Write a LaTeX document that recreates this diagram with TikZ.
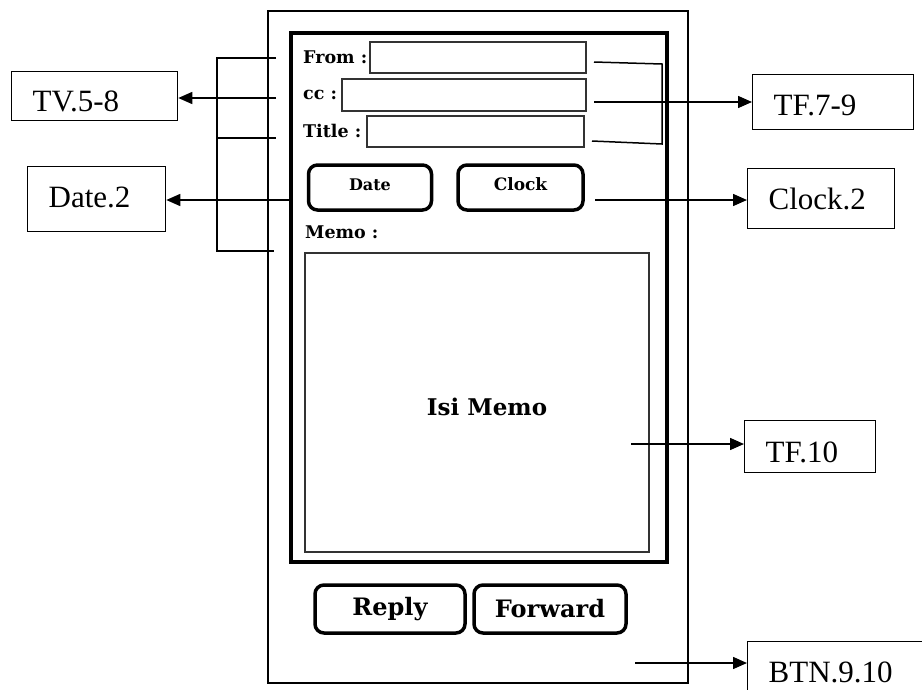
\documentclass[tikz,border=0pt]{standalone}
\usepackage{fontspec}
\setmainfont{Liberation Serif}
\newfontfamily\uif{DejaVu Serif}
\usetikzlibrary{arrows.meta}
\tikzset{
  lbl/.style={draw, line width=1.3pt, inner xsep=21pt, inner ysep=0pt, align=left,
    anchor=north west, font=\fontsize{31}{31}\selectfont, text depth=0pt},
  uilbl/.style={inner sep=0pt, anchor=west, font=\uif\bfseries\fontsize{17.5}{17.5}\selectfont},
  field/.style={draw=black!80, line width=1.3pt, inner sep=0pt},
  btn/.style={draw, line width=3.5pt, rounded corners=9pt, inner sep=0pt},
  conn/.style={line width=1.5pt},
  arr/.style={conn, -{Triangle[length=14pt,width=12pt]}}
}
\begin{document}
\begin{tikzpicture}[x=1pt,y=-1pt]
\clip (0,0) rectangle (922,689);
\fill[white] (0,0) rectangle (922,689);
% phone
\node[draw, line width=2.5pt, minimum width=420pt, minimum height=672pt, inner sep=0pt] (outer) at (478,347) {};
\node[draw, line width=4.5pt, minimum width=376pt, minimum height=529pt, inner sep=0pt] (inner) at (479,297.5) {};
% fields
\node[field, minimum width=216pt, minimum height=31pt] (ffrom) at (478,57.5) {};
\node[field, minimum width=244pt, minimum height=32pt] (fcc) at (464,95) {};
\node[field, minimum width=217pt, minimum height=31pt] (ftitle) at (475.5,131.5) {};
\node[uilbl] (lfrom) at (303,57) {From :};
\node[uilbl] (lcc) at (303,95) {cc :};
\node[uilbl] (ltitle) at (303,131) {Title :};
% date / clock
\node[btn, minimum width=123pt, minimum height=45pt, font=\uif\bfseries\fontsize{16}{16}\selectfont, text height=12pt, text depth=7pt] (bdate) at (370,187.5) {Date};
\node[btn, minimum width=125pt, minimum height=45pt, font=\uif\bfseries\fontsize{17}{17}\selectfont, text height=12pt, text depth=7pt] (bclock) at (520.5,187.5) {Clock};
\node[uilbl] (lmemo) at (305,232) {Memo :};
% memo
\node[field, minimum width=344pt, minimum height=299pt] (memo) at (477,402.5) {};
\node[inner sep=0pt, font=\uif\bfseries\fontsize{23}{23}\selectfont] (isi) at (487,407) {Isi Memo};
% reply / forward
\node[btn, minimum width=150pt, minimum height=48pt, font=\uif\bfseries\fontsize{24}{24}\selectfont] (reply) at (390,609) {Reply};
\node[btn, minimum width=152pt, minimum height=48pt, font=\uif\bfseries\fontsize{24}{24}\selectfont] (forward) at (550,609) {Forward};
% label boxes
\node[lbl, text width=124pt, minimum height=49pt, text height=31pt] (tv) at (11,71) {TV.5-8};
\node[lbl, text width=96pt, minimum height=65pt, text height=17pt] (datel) at (27,166) {Date.2};
\node[lbl, text width=119pt, minimum height=55pt, text height=27pt] (tf79) at (752,74) {TF.7-9};
\node[lbl, text width=105pt, minimum height=60pt, text height=22pt] (clockl) at (747,168) {Clock.2};
\node[lbl, text width=89pt, minimum height=52pt, text height=32pt] (tf10) at (744,420) {TF.10};
\node[lbl, text width=171pt, minimum height=60pt, text height=22pt] (btn) at (747,641) {BTN.9.10};
% left bracket
\coordinate (l1) at (276,58);
\coordinate (l2) at (276,98);
\coordinate (l3) at (276,138);
\coordinate (l4) at (274,251);
\coordinate (lv) at (217,58);
\draw[conn] (l1) -- (lv) -- (lv |- l4) -- (l4);
\draw[conn] (lv |- l3) -- (l3);
\draw[arr] (l2) -- (l2 -| tv.east);
% date arrow
\coordinate (ds) at (291,200);
\draw[arr] (ds) -- (ds -| datel.east);
% right bracket
\coordinate (r1) at (594,62);
\coordinate (r2) at (594,102);
\coordinate (r3) at (592,141);
\coordinate (rt) at (662,64);
\coordinate (rb) at (662,144);
\draw[conn] (r1) -- (rt) -- (rb) -- (r3);
\draw[arr] (r2) -- (r2 -| tf79.west);
% clock arrow
\coordinate (cs) at (595,200);
\draw[arr] (cs) -- (cs -| clockl.west);
% memo arrow
\coordinate (ms) at (631,444);
\draw[arr] (ms) -- (ms -| tf10.west);
% btn arrow
\coordinate (bs) at (635,663);
\draw[arr] (bs) -- (bs -| btn.west);
\end{tikzpicture}
\end{document}
